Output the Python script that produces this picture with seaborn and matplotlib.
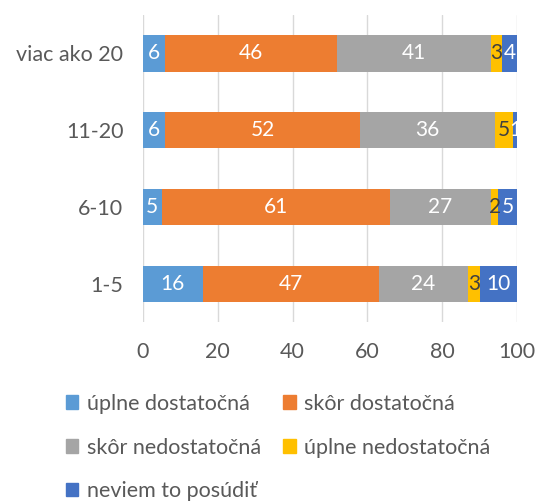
import matplotlib
matplotlib.use("Agg")
import matplotlib.pyplot as plt
import matplotlib.patches as mpatches
import numpy as np
import pandas as pd
import seaborn as sns

categories = ["viac ako 20", "11-20", "6-10", "1-5"]
series_names = ["úplne dostatočná", "skôr dostatočná", "skôr nedostatočná",
                "úplne nedostatočná", "neviem to posúdiť"]
uplne_dost = [6, 6, 5, 16]
skor_dost = [46, 52, 61, 47]
skor_nedost = [41, 36, 27, 24]
uplne_nedost = [3, 5, 2, 3]
neviem = [4, 1, 5, 10]
x_ticks = [0, 20, 40, 60, 80, 100]

colors = ["#5B9BD5", "#ED7D31", "#A5A5A5", "#FFC000", "#4472C4"]
label_colors = ["white", "white", "white", "#404040", "white"]

sns.set_theme(style="white")
plt.rcParams["font.family"] = ["Lato", "DejaVu Sans"]

values = [uplne_dost, skor_dost, skor_nedost, uplne_nedost, neviem]
df = pd.DataFrame({name: v for name, v in zip(series_names, values)}, index=categories)
cum = df.cumsum(axis=1)

fig = plt.figure(figsize=(5.37, 5.04), dpi=100)
ax = fig.add_axes([0.266, 0.361, 0.697, 0.609])

for i in reversed(range(len(series_names))):
    name = series_names[i]
    sns.barplot(x=cum[name].values, y=categories, order=categories, orient="h",
                color=colors[i], saturation=1, width=0.47, ax=ax, linewidth=0, zorder=3)

for i, name in enumerate(series_names):
    for j, cat in enumerate(categories):
        v = df.loc[cat, name]
        center = cum.loc[cat, name] - v / 2
        ax.text(center, j, str(v), ha="center", va="center", fontsize=15,
                color=label_colors[i], zorder=5)

ax.set_xlim(0, 100)
ax.set_ylim(3.5, -0.5)
ax.set_xticks(x_ticks)
ax.set_xticklabels([str(t) for t in x_ticks])
ax.tick_params(axis="y", labelsize=15.5, colors="#595959", length=0, pad=14)
ax.tick_params(axis="x", labelsize=15.5, colors="#595959", length=0, pad=14)
ax.xaxis.grid(True, color="#D9D9D9", linewidth=1, zorder=0)
ax.yaxis.grid(False)
for s in ax.spines.values():
    s.set_visible(False)
ax.set_xlabel("")
ax.set_ylabel("")

handles = [mpatches.Patch(color=c, label=n) for c, n in zip(colors, series_names)]
order = [0, 2, 4, 1, 3]
fig.legend([handles[k] for k in order], [series_names[k] for k in order],
           ncol=2, loc="upper left", bbox_to_anchor=(0.086, 0.257),
           frameon=False, fontsize=15.5, labelcolor="#595959",
           handlelength=0.6, handleheight=0.6, handletextpad=0.4,
           labelspacing=1.1, columnspacing=1.0)

fig.savefig("out.png", dpi=100)
